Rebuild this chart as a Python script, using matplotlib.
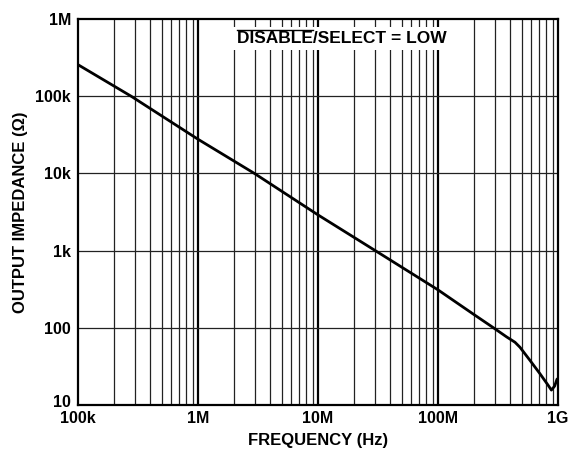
import matplotlib
matplotlib.use("Agg")
import matplotlib.pyplot as plt
import matplotlib.transforms as mtransforms
from matplotlib.ticker import FixedLocator, NullFormatter, NullLocator

plt.rcParams['font.family'] = ['Liberation Sans', 'DejaVu Sans']

freq_hz = [1e5, 2.77e5, 1e6, 2.95e6, 1e7, 3e7, 1e8, 2e8, 2.9e8, 3.74e8, 4.38e8,
           4.82e8, 5.83e8, 7.05e8, 8.26e8, 8.81e8, 9.38e8, 9.81e8, 1e9]
impedance_ohm = [256e3, 100e3, 27.7e3, 10e3, 2.9e3, 1e3, 310, 148, 100, 76, 65,
                 56, 38, 25.6, 18.1, 15.6, 17.6, 21.6, 22]

x_ticks = [1e5, 1e6, 1e7, 1e8, 1e9]
x_ticklabels = ['100k', '1M', '10M', '100M', '1G']
y_ticks = [10, 100, 1e3, 1e4, 1e5, 1e6]
y_ticklabels = ['10', '100', '1k', '10k', '100k', '1M']

TFS = 11.5
LFS = 12

fig = plt.figure(figsize=(5.79, 4.54), dpi=100)
ax = fig.add_axes([78/579, 49/454, 480/579, 386/454])

ax.set_xscale('log')
ax.set_yscale('log')
ax.set_xlim(1e5, 1e9)
ax.set_ylim(10, 1e6)

minor_x = [m * 10**e for e in range(5, 9) for m in range(2, 10)]
for xv in minor_x:
    ax.axvline(xv, color='#222222', lw=0.9, zorder=1)
for xv in x_ticks[1:-1]:
    ax.axvline(xv, color='black', lw=1.6, zorder=1)
for yv in y_ticks[1:-1]:
    ax.axhline(yv, color='#222222', lw=0.9, zorder=1)

ax.plot(freq_hz, impedance_ohm, color='black', lw=2.0, zorder=4,
        solid_joinstyle='round')

ax.xaxis.set_major_locator(FixedLocator(x_ticks))
ax.yaxis.set_major_locator(FixedLocator(y_ticks))
ax.xaxis.set_minor_locator(NullLocator())
ax.yaxis.set_minor_locator(NullLocator())
ax.xaxis.set_minor_formatter(NullFormatter())
ax.yaxis.set_minor_formatter(NullFormatter())
ax.set_xticklabels(x_ticklabels, fontsize=TFS, fontweight='bold')
ax.set_yticklabels(y_ticklabels, fontsize=TFS, fontweight='bold')
ax.tick_params(axis='x', length=0, pad=4)
ax.tick_params(axis='y', length=0, pad=5)

lab10 = ax.get_yticklabels()[0]
lab10.set_transform(lab10.get_transform() +
                    mtransforms.ScaledTranslation(0, 4/100, fig.dpi_scale_trans))

for s in ax.spines.values():
    s.set_linewidth(1.6)
    s.set_color('black')
    s.set_zorder(5)

ax.set_xlabel('FREQUENCY (Hz)', fontsize=LFS, fontweight='bold', va='center')
ax.set_ylabel('OUTPUT IMPEDANCE (Ω)', fontsize=LFS, fontweight='bold', va='center')
ax.xaxis.set_label_coords(0.5, -0.093)
ax.yaxis.set_label_coords(-0.12, 0.5)

tx, ty = 0.55, 0.95
AFS = 12.5
t = ax.text(tx, ty, 'DISABLE/SELECT = LOW', transform=ax.transAxes, ha='center',
            va='center', fontsize=AFS, fontweight='bold', zorder=3,
            bbox=dict(facecolor='white', edgecolor='none', pad=3))
fig.canvas.draw()
r = fig.canvas.get_renderer()
bb = t.get_window_extent(r)
tmp = ax.text(0, 0, 'DISABLE', fontsize=AFS, fontweight='bold')
wb = tmp.get_window_extent(r)
tmp.remove()
inv = ax.transAxes.inverted()
x0, y1 = inv.transform((bb.x0, bb.y1 + 1))
x1, _ = inv.transform((bb.x0 + wb.width, bb.y1 + 1))
ax.plot([x0, x1], [y1, y1], transform=ax.transAxes, color='black', lw=1.0,
        zorder=4, clip_on=False)

fig.savefig('out.png', dpi=100)
